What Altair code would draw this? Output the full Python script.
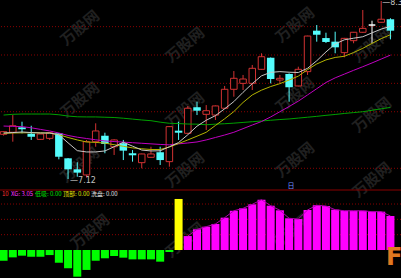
import altair as alt
import pandas as pd

# ---- candle data (price) ----
opens = [7.429, 7.443, 7.477, 7.433, 7.394, 7.401, 7.436, 7.263, 7.187, 7.148, 7.378, 7.419, 7.343, 7.367, 7.298,
         7.233, 7.270, 7.305, 7.240, 7.454, 7.436, 7.616, 7.567, 7.562, 7.609, 7.740, 7.781, 7.781, 7.878, 7.958,
         7.804, 7.846, 7.763, 7.862, 8.145, 8.094, 8.069, 7.993, 8.076, 8.134, 8.184, 8.203, 8.224]
closes = [7.447, 7.488, 7.464, 7.412, 7.431, 7.440, 7.274, 7.187, 7.164, 7.378, 7.452, 7.362, 7.390, 7.316, 7.284,
          7.293, 7.293, 7.251, 7.482, 7.440, 7.609, 7.592, 7.592, 7.625, 7.740, 7.816, 7.811, 7.885, 7.965, 7.811,
          7.816, 7.754, 7.878, 8.108, 8.117, 8.067, 8.030, 8.092, 8.134, 8.161, 8.184, 8.224, 8.145]
highs = [7.450, 7.562, 7.516, 7.488, 7.433, 7.442, 7.438, 7.265, 7.236, 7.390, 7.505, 7.440, 7.395, 7.390, 7.320,
         7.295, 7.343, 7.343, 7.485, 7.516, 7.625, 7.654, 7.631, 7.628, 7.763, 7.866, 7.839, 7.908, 7.989, 7.960,
         7.839, 7.850, 7.896, 8.110, 8.184, 8.131, 8.138, 8.095, 8.136, 8.288, 8.214, 8.350, 8.231]
lows = [7.420, 7.378, 7.436, 7.390, 7.390, 7.390, 7.256, 7.120, 7.136, 7.130, 7.343, 7.298, 7.286, 7.251, 7.240,
        7.194, 7.268, 7.217, 7.205, 7.390, 7.430, 7.562, 7.459, 7.528, 7.605, 7.689, 7.735, 7.735, 7.875, 7.781,
        7.781, 7.654, 7.760, 7.839, 8.069, 8.060, 7.989, 7.961, 8.058, 8.130, 8.058, 8.200, 8.085]

# ---- moving averages ----
ma5 = [7.438, 7.441, 7.445, 7.441, 7.438, 7.438, 7.426, 7.370, 7.316, 7.307, 7.307, 7.314, 7.343, 7.374, 7.347,
       7.320, 7.314, 7.315, 7.343, 7.372, 7.426, 7.485, 7.526, 7.558, 7.605, 7.655, 7.719, 7.779, 7.833, 7.857,
       7.862, 7.858, 7.856, 7.885, 7.937, 7.998, 8.053, 8.082, 8.093, 8.103, 8.130, 8.156, 8.175]
ma10 = [7.436, 7.438, 7.439, 7.440, 7.439, 7.437, 7.426, 7.407, 7.390, 7.376, 7.373, 7.368, 7.357, 7.346, 7.335,
        7.329, 7.324, 7.324, 7.341, 7.365, 7.390, 7.416, 7.443, 7.490, 7.536, 7.586, 7.649, 7.701, 7.734, 7.759,
        7.779, 7.804, 7.831, 7.876, 7.915, 7.943, 7.960, 7.968, 7.994, 8.023, 8.057, 8.090, 8.117]
ma20 = [7.486, 7.484, 7.482, 7.474, 7.463, 7.452, 7.438, 7.421, 7.409, 7.400, 7.391, 7.383, 7.379, 7.375, 7.371,
        7.367, 7.363, 7.359, 7.356, 7.363, 7.369, 7.376, 7.390, 7.407, 7.424, 7.443, 7.468, 7.493, 7.517, 7.549,
        7.585, 7.621, 7.658, 7.701, 7.744, 7.787, 7.819, 7.845, 7.871, 7.896, 7.922, 7.949, 7.976]
ma60 = [7.562, 7.567, 7.569, 7.569, 7.569, 7.569, 7.564, 7.555, 7.550, 7.549, 7.549, 7.547, 7.545, 7.540, 7.534,
        7.528, 7.523, 7.513, 7.505, 7.503, 7.500, 7.499, 7.495, 7.499, 7.502, 7.506, 7.511, 7.516, 7.521, 7.526,
        7.531, 7.535, 7.541, 7.547, 7.553, 7.560, 7.566, 7.573, 7.579, 7.585, 7.595, 7.605, 7.615]

# ---- lower indicator ----
ind = [-0.70, -0.48, -0.37, -0.44, -0.44, -0.33, -0.83, -1.19, -1.74, -1.30, -0.70, -0.54, -0.39, -0.50, -0.61,
       -0.61, -0.61, -0.76, -0.13, 3.33, 0.91, 1.35, 1.52, 1.70, 2.11, 2.56, 2.72, 2.98, 3.28, 2.89, 2.59, 2.07,
       2.02, 2.61, 2.92, 2.87, 2.63, 2.56, 2.56, 2.56, 2.50, 2.50, 2.22]

price_grid = [8.173, 7.977, 7.781, 7.585, 7.194]
ind_grid = [3, 2, 1]
ind_sep = [3.914]

low_label = "7.12"
high_label = "8.35"

idx = list(range(len(opens)))
dirs = ["up" if c > o else ("down" if c < o else "flat") for o, c in zip(opens, closes)]
df = pd.DataFrame(dict(i=idx, open=opens, close=closes, high=highs, low=lows, dir=dirs,
                       ma5=ma5, ma10=ma10, ma20=ma20, ma60=ma60, v=ind))
kinds = []
for k, v in enumerate(ind):
    if v < 0:
        kinds.append("neg")
    elif k > 0 and ind[k - 1] < 0:
        kinds.append("start")
    else:
        kinds.append("pos")
df["kind"] = kinds

RED = "#d23232"
CYAN = "#54fcfc"

X = alt.X("i:Q", scale=alt.Scale(domain=[0.153, 42.605], nice=False, zero=False), axis=None)
PY = alt.Scale(domain=[6.436, 8.357], nice=False, zero=False)
LY = alt.Scale(domain=[-1.826, 16.31], nice=False, zero=False)

base = alt.Chart(df)
layers = []

# watermarks
for (wx, wy) in [(80, 28), (185, 45), (295, 25), (372, 45), (80, 100), (185, 110), (295, 95), (372, 115),
                 (80, 165), (185, 170), (295, 160), (372, 180), (90, 232), (185, 240), (290, 232)]:
    layers.append(alt.Chart(pd.DataFrame({"t": ["万股网"]})).mark_text(
        angle=320, fontSize=15, fontWeight="bold", color="#202020", font="Noto Sans CJK SC"
    ).encode(x=alt.value(wx), y=alt.value(wy), text="t:N"))

# grid lines
layers.append(alt.Chart(pd.DataFrame({"g": price_grid})).mark_rule(
    color="#8a0000", strokeDash=[1, 2], strokeWidth=1).encode(y=alt.Y("g:Q", scale=PY, axis=None)))
layers.append(alt.Chart(pd.DataFrame({"g": ind_grid})).mark_rule(
    color="#8a0000", strokeDash=[1, 2], strokeWidth=1).encode(y=alt.Y("g:Q", scale=LY, axis=None)))
layers.append(alt.Chart(pd.DataFrame({"g": ind_sep})).mark_rule(
    color="#8a0000", strokeWidth=1).encode(y=alt.Y("g:Q", scale=LY, axis=None)))

dir_scale = alt.Scale(domain=["up", "down", "flat"], range=[RED, CYAN, "#ffffff"])

# wicks
layers.append(base.mark_rule(strokeWidth=1, clip=True).encode(
    x=X, y=alt.Y("low:Q", scale=PY, axis=None), y2="high:Q",
    color=alt.Color("dir:N", scale=dir_scale, legend=None)))
# up / flat bodies (hollow)
layers.append(base.transform_filter("datum.dir != 'down'").mark_bar(
    size=6.5, fill="black", strokeWidth=1, clip=True).encode(
    x=X, y=alt.Y("open:Q", scale=PY, axis=None), y2="close:Q",
    stroke=alt.Stroke("dir:N", scale=dir_scale, legend=None)))
# down bodies (filled)
layers.append(base.transform_filter("datum.dir == 'down'").mark_bar(
    size=7.5, color=CYAN, clip=True).encode(
    x=X, y=alt.Y("open:Q", scale=PY, axis=None), y2="close:Q"))

# moving averages
for col, colr in [("ma60", "#00a000"), ("ma20", "#c000c0"), ("ma10", "#b4b400"), ("ma5", "#c8c8c8")]:
    layers.append(base.mark_line(color=colr, strokeWidth=1, clip=True).encode(
        x=X, y=alt.Y(f"{col}:Q", scale=PY, axis=None)))

# high / low markers
layers.append(base.transform_filter("datum.i == 7").mark_text(
    align="left", baseline="middle", dx=2, dy=2, fontSize=8, color="#c0c0c0", font="DejaVu Sans").encode(
    x=X, y=alt.Y("low:Q", scale=PY, axis=None), text=alt.value("—" + low_label)))
layers.append(base.transform_filter("datum.i == 41").mark_text(
    align="left", baseline="middle", dx=1, dy=2, fontSize=8, color="#c0c0c0", font="DejaVu Sans").encode(
    x=X, y=alt.Y("high:Q", scale=PY, axis=None), text=alt.value("—" + high_label)))

# lower indicator bars
kind_scale = alt.Scale(domain=["neg", "start", "pos"], range=["#00ff00", "#ffff00", "#ff00ff"])
layers.append(base.mark_bar(size=8, clip=True).encode(
    x=X, y=alt.Y("v:Q", scale=LY, axis=None), y2=alt.Y2(datum=0),
    color=alt.Color("kind:N", scale=kind_scale, legend=None)))
layers.append(base.transform_filter("datum.kind == 'pos'").mark_line(
    color="#b000b0", strokeWidth=1, clip=True).encode(
    x=X, y=alt.Y("v:Q", scale=LY, axis=None)))

# indicator caption
for txt, tx, colr in [("10", 2, "#ff3030"), ("XG: 3.05", 11, "#ff30ff"), ("低吸: 0.00", 35, "#00e000"),
                      ("顶部: 0.00", 63, "#e0e000"), ("洗盘: 0.00", 91, "#e0e0e0")]:
    layers.append(alt.Chart(pd.DataFrame({"t": [txt]})).mark_text(
        align="left", baseline="middle", fontSize=6, color=colr, font="Noto Sans CJK SC").encode(
        x=alt.value(tx), y=alt.value(194), text="t:N"))
layers.append(alt.Chart(pd.DataFrame({"t": ["日"]})).mark_text(
    align="center", baseline="middle", fontSize=7, color="#7090ff", font="Noto Sans CJK SC").encode(
    x=alt.value(291), y=alt.value(186), text="t:N"))

# corner logo letter
layers.append(alt.Chart(pd.DataFrame({"t": ["F"]})).mark_text(
    align="left", baseline="middle", fontSize=24, fontWeight="bold", color="#e07820", font="DejaVu Sans").encode(
    x=alt.value(386), y=alt.value(258), text="t:N"))

chart = alt.layer(*layers).resolve_scale(y="independent", color="independent", stroke="independent").properties(
    width=401, height=278, padding=0, autosize=alt.AutoSizeParams(type="none"), background="black"
).configure_view(stroke=None)

chart.save("out.html", embed_options={"renderer": "svg", "actions": False})
